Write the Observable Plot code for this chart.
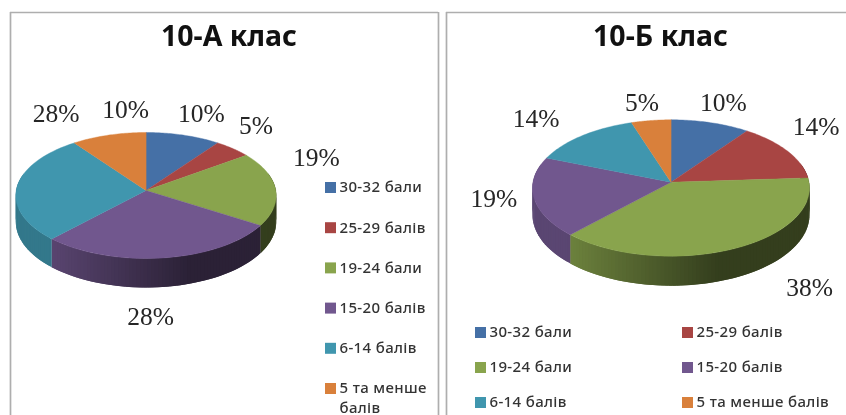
<!DOCTYPE html>
<html>
<head>
<meta charset="utf-8">
<script src="https://cdn.jsdelivr.net/npm/d3@7"></script>
<script src="https://cdn.jsdelivr.net/npm/@observablehq/plot@0.6"></script>
<style>
html,body{margin:0;padding:0;background:#fff;overflow:hidden}
svg{display:block;filter:blur(0.65px)}
.legend-text{letter-spacing:0.35px}
</style>
</head>
<body>
<div id="chart"></div>
<script>
// ---- data ----
const categories = ["30-32 бали", "25-29 балів", "19-24 бали", "15-20 балів", "6-14 балів", "5 та менше балів"];
const classA = [10, 5, 19, 28, 28, 10];
const classB = [10, 14, 38, 19, 14, 5];
const palette = ["#4570a6", "#a84543", "#89a44d", "#71578e", "#4096ae", "#d9803b"];

// ---- layout (pixel-space scales below are the identity of the page) ----
const W = 846, H = 415;
const panels = [
  {title: "10-А клас", tx: 228.5, values: classA, cx: 145.5, cy: 190, b: 129.8, a: 62.6, k: 0.079, d: 29,
   nudge: [[18,-21],[23,-23],[41,-31],[-13,59],[39,-73],[17,-25]]},
  {title: "10-Б клас", tx: 660, values: classB, cx: 670.5, cy: 181.7, b: 138, a: 67.7, k: 0.085, d: 29.5,
   nudge: [[13,-20],[29,-24],[75,39],[-40,2],[-46,-17],[-9,-18]]}
];

function rim(p, deg) {
  const t = deg * Math.PI / 180, X = Math.sin(t), Y = Math.cos(t), den = 1 + p.k * Y;
  return {x: p.cx + p.b * X / den, y: p.cy - p.a * Y / den, Y};
}
function shade(p, x) {
  const t = (x - p.cx) / p.b;
  return t < -0.75 ? 0.8 : t > 0.35 ? 0.38 : 0.8 + (t + 0.75) / 1.1 * (0.38 - 0.8);
}
function dim(color, f) {
  const c = d3.rgb(color);
  return d3.rgb(c.r * f, c.g * f, c.b * f).formatHex();
}

const faces = [], walls = [], labels = [];
const step = 1.5;
panels.forEach((p, pi) => {
  let acc = 0;
  p.values.forEach((v, i) => {
    const a0 = acc * 3.6, a1 = (acc + v) * 3.6;
    const id = `f${pi}-${i}`;
    faces.push({id, x: p.cx, y: p.cy, color: palette[i]});
    for (let a = a0; a <= a1 + 1e-6; a += (a1 - a0) / 40) {
      const r = rim(p, a);
      faces.push({id, x: r.x, y: r.y, color: palette[i]});
    }
    // side wall strips for the front half of the pie; each overlaps the next
    for (let a = a0; a < a1 - 1e-6; a += step) {
      const e = Math.min(a + step * 2, a1);
      if (Math.cos(e * Math.PI / 180) > 0.25 && Math.cos(a * Math.PI / 180) > 0.25) continue;
      const r0 = rim(p, a), r1 = rim(p, e);
      const depth = r => p.d * (0.9 + 0.1 * -r.Y);
      const color = dim(palette[i], shade(p, r0.x));
      const wid = `w${pi}-${i}-${a}`;
      walls.push({id: wid, x: r0.x, y: r0.y, color});
      walls.push({id: wid, x: r1.x, y: r1.y, color});
      walls.push({id: wid, x: r1.x, y: r1.y + depth(r1), color});
      walls.push({id: wid, x: r0.x, y: r0.y + depth(r0), color});
    }
    const m = rim(p, (a0 + a1) / 2);
    labels.push({text: `${v}%`, x: m.x + p.nudge[i][0], y: m.y + p.nudge[i][1]});
    acc += v;
  });
});

// legends
const legendA = categories.map((c, i) => ({
  lines: i === 5 ? ["5 та менше", "балів"] : [c], color: palette[i],
  x: 330, y: 187 + i * 40.2
}));
const legendB = categories.map((c, i) => ({
  lines: [c], color: palette[i],
  x: i % 2 ? 687 : 480, y: 332 + Math.floor(i / 2) * 35
}));
const legend = legendA.concat(legendB);
const legendRows = legend.flatMap(d => d.lines.map((label, j) => ({label, x: d.x + 9, y: d.y + j * 19.5})));

const frames = [
  {x1: 10, x2: 438},
  {x1: 446, x2: 860}
];

const chart = Plot.plot({
  width: W, height: H,
  margin: 0,
  style: {background: "#fff"},
  x: {domain: [0, W], range: [0, W], axis: null},
  y: {domain: [0, H], range: [0, H], axis: null},
  color: {type: "identity"},
  marks: [
    Plot.ruleX(frames.flatMap(f => [f.x1, f.x2]), {y1: 12, y2: H + 5, stroke: "#aeaeae", strokeWidth: 1.7}),
    Plot.ruleY(frames, {x1: "x1", x2: "x2", y: () => 12, stroke: "#aeaeae", strokeWidth: 1.7}),
    Plot.line(walls, {x: "x", y: "y", z: "id", fill: "color", stroke: "none", curve: "linear-closed"}),
    Plot.line(faces, {x: "x", y: "y", z: "id", fill: "color", stroke: "color", strokeWidth: 0.4, curve: "linear-closed"}),
    Plot.text(panels, {x: "tx", y: () => 36, text: "title", fontFamily: "Noto Sans", fontWeight: 700, fontSize: 28.5, fill: "#111"}),
    Plot.text(labels, {x: "x", y: "y", text: "text", fontFamily: "Liberation Serif", fontSize: 25.5, fill: "#262626"}),
    Plot.dot(legend, {x: "x", y: "y", symbol: "square", r: 6.2, fill: "color", stroke: "none"}),
    Plot.text(legendRows, {x: "x", y: "y", text: "label", textAnchor: "start", className: "legend-text",
      fontFamily: "Noto Sans", fontWeight: 500, fontSize: 15, fill: "#333"})
  ]
});
document.getElementById("chart").append(chart);
</script>
</body>
</html>
